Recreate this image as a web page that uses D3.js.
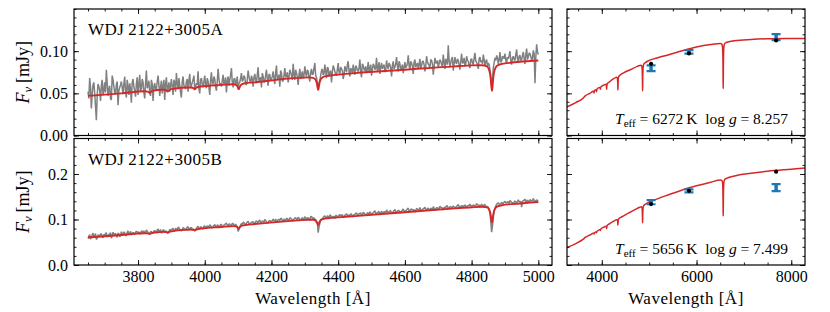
<!DOCTYPE html>
<html lang="en">
<head>
<meta charset="utf-8">
<title>WDJ 2122+3005 spectra and SED</title>
<script src="https://d3js.org/d3.v7.min.js"></script>
<style>
  body { margin: 0; background: #fff; }
</style>
</head>
<body>
<script>
// ---- DATA ----
// observed spectra in microJy: specFlux at 3650 + 5k A, specFluxMid at 3652.5 + 5k A
const specStart = 3650, specStep = 5;
const specFluxA = [
  52, 68, 32, 60, 50, 18, 61, 54, 59, 48,
  63, 78, 47, 59, 42, 66, 51, 60, 36, 57,
  64, 49, 70, 45, 58, 62, 39, 67, 53, 61,
  48, 72, 55, 63, 44, 77, 59, 50, 66, 41,
  62, 54, 71, 47, 65, 58, 42, 69, 56, 52,
  67, 48, 63, 74, 55, 60, 45, 70, 58, 64,
  52, 73, 59, 66, 54, 62, 76, 50, 68, 57,
  71, 56, 64, 48, 75, 61, 67, 53, 79, 60,
  58, 72, 63, 51, 70, 66, 80, 57, 68, 62,
  55, 63, 74, 66, 69, 60, 77, 65, 71, 58,
  73, 62, 81, 66, 57, 70, 64, 78, 59, 72,
  67, 76, 61, 83, 69, 58, 74, 65, 80, 70,
  63, 78, 71, 85, 66, 74, 60, 79, 72, 68,
  82, 70, 76, 64, 79, 73, 86, 69, 60, 66,
  77, 72, 84, 68, 80, 74, 63, 83, 76, 71,
  86, 73, 79, 67, 82, 75, 88, 70, 78, 84,
  72, 81, 76, 90, 69, 83, 77, 74, 87, 79,
  71, 85, 78, 92, 80, 73, 86, 82, 75, 89,
  79, 84, 70, 88, 81, 93, 76, 85, 80, 74,
  87, 82, 95, 78, 86, 73, 90, 84, 79, 91,
  83, 88, 76, 94, 85, 80, 89, 72, 92, 86,
  81, 90, 84, 96, 79, 87, 107, 82, 91, 77,
  93, 85, 89, 78, 97, 86, 82, 94, 88, 80,
  91, 84, 98, 87, 79, 93, 89, 96, 83, 90,
  86, 78, 60, 80, 92, 95, 85, 99, 88, 93,
  97, 86, 91, 100, 84, 94, 89, 102, 87, 95,
  90, 99, 85, 103, 93, 97, 88, 101, 62, 108,
  96
];
const specFluxMidA = [
  44, 57, 49, 63, 35, 47, 58, 41, 66, 53,
  51, 62, 55, 44, 71, 58, 49, 64, 53, 60,
  57, 61, 52, 66, 48, 55, 63, 58, 46, 69,
  60, 53, 67, 51, 62, 56, 65, 47, 61, 58,
  55, 64, 60, 57, 50, 66, 61, 54, 63, 59,
  58, 66, 52, 62, 68, 51, 64, 59, 55, 67,
  65, 57, 63, 71, 58, 60, 55, 66, 61, 64,
  60, 68, 57, 66, 62, 70, 58, 64, 67, 62,
  65, 60, 69, 64, 59, 72, 63, 67, 61, 70,
  62, 68, 64, 71, 61, 66, 70, 63, 67, 69,
  66, 72, 65, 69, 74, 63, 71, 67, 73, 65,
  70, 68, 74, 66, 72, 77, 64, 71, 69, 75,
  69, 75, 66, 73, 78, 70, 72, 67, 76, 71,
  74, 78, 69, 75, 72, 80, 71, 63, 62, 71,
  79, 73, 76, 81, 70, 77, 75, 80, 72, 78,
  75, 81, 77, 72, 79, 84, 76, 80, 74, 77,
  83, 77, 80, 75, 85, 78, 82, 79, 76, 84,
  78, 83, 80, 76, 87, 81, 79, 84, 77, 82,
  86, 80, 83, 79, 85, 82, 88, 78, 84, 81,
  80, 85, 83, 88, 82, 87, 81, 86, 84, 79,
  88, 84, 82, 87, 83, 90, 85, 81, 86, 89,
  85, 88, 82, 87, 91, 84, 89, 86, 93, 85,
  87, 91, 84, 88, 86, 92, 85, 89, 83, 90,
  86, 92, 88, 84, 91, 87, 85, 90, 88, 82,
  84, 70, 66, 86, 89, 92, 90, 87, 94, 91,
  89, 93, 95, 88, 92, 90, 96, 91, 94, 89,
  95, 91, 96, 90, 98, 94, 92, 97, 93, 99
];
const specFluxB = [
  58, 67, 61, 70, 64, 56, 66, 62, 69, 60,
  65, 71, 63, 68, 59, 72, 66, 64, 70, 62,
  73, 67, 70, 64, 75, 69, 66, 72, 68, 74,
  70, 69, 75, 71, 71, 77, 72, 69, 74, 70,
  76, 72, 79, 74, 70, 77, 73, 75, 70, 78,
  76, 81, 74, 79, 83, 77, 75, 82, 78, 80,
  84, 78, 82, 79, 75, 81, 85, 80, 83, 79,
  86, 82, 85, 88, 81, 84, 89, 83, 87, 85,
  89, 84, 88, 92, 86, 90, 87, 91, 85, 86,
  74, 84, 91, 94, 89, 92, 96, 90, 93, 95,
  91, 97, 94, 99, 92, 96, 100, 95, 93, 98,
  95, 101, 97, 94, 100, 98, 103, 96, 99, 102,
  98, 104, 100, 97, 103, 101, 105, 99, 102, 100,
  106, 101, 104, 99, 107, 103, 99, 92, 71, 91,
  100, 104, 108, 103, 106, 110, 104, 107, 102, 109,
  106, 111, 108, 104, 110, 113, 107, 109, 112, 106,
  111, 115, 109, 113, 108, 116, 112, 110, 114, 117,
  111, 115, 119, 113, 116, 110, 118, 114, 117, 121,
  115, 119, 113, 117, 122, 116, 120, 114, 118, 123,
  117, 121, 125, 118, 123, 120, 116, 124, 121, 126,
  120, 124, 127, 121, 125, 119, 123, 128, 122, 126,
  123, 129, 125, 121, 127, 131, 124, 128, 126, 130,
  125, 129, 133, 127, 130, 126, 132, 128, 131, 134,
  128, 132, 129, 135, 131, 127, 134, 130, 133, 128,
  127, 114, 72, 104, 124, 133, 137, 134, 138, 135,
  140, 136, 139, 142, 137, 135, 141, 138, 143, 139,
  127, 142, 145, 140, 138, 144, 141, 146, 139, 143,
  142
];
const specFluxMidB = [
  63, 57, 66, 61, 69, 59, 65, 68, 62, 67,
  69, 62, 67, 71, 64, 68, 70, 61, 69, 65,
  68, 73, 66, 72, 66, 74, 69, 67, 72, 73,
  73, 68, 74, 75, 70, 74, 69, 73, 70, 74,
  73, 77, 74, 78, 72, 77, 73, 72, 73, 77,
  79, 75, 81, 77, 82, 78, 77, 81, 78, 83,
  79, 82, 78, 78, 77, 83, 80, 84, 80, 85,
  82, 86, 83, 87, 83, 87, 84, 88, 83, 89,
  85, 88, 91, 87, 90, 86, 91, 87, 90, 84,
  78, 88, 89, 93, 90, 94, 91, 92, 95, 91,
  95, 94, 97, 92, 97, 94, 98, 93, 97, 96,
  98, 97, 101, 96, 100, 102, 97, 101, 97, 102,
  99, 103, 100, 101, 104, 100, 103, 99, 104, 101,
  104, 103, 101, 106, 103, 104, 101, 95, 84, 100,
  102, 107, 104, 108, 104, 109, 105, 106, 109, 105,
  109, 108, 111, 106, 110, 109, 110, 112, 107, 111,
  113, 110, 113, 115, 110, 114, 111, 115, 111, 114,
  113, 117, 114, 115, 118, 114, 115, 117, 114, 118,
  116, 119, 115, 120, 117, 118, 120, 117, 121, 118,
  119, 123, 119, 122, 121, 122, 119, 123, 122, 122,
  121, 124, 123, 123, 122, 125, 121, 125, 122, 126,
  124, 127, 126, 126, 125, 129, 125, 128, 127, 127,
  127, 131, 128, 129, 130, 130, 129, 130, 130, 131,
  130, 131, 131, 132, 132, 131, 131, 132, 129, 129,
  123, 95, 86, 118, 130, 135, 134, 134, 135, 138,
  136, 139, 135, 140, 137, 138, 138, 139, 139, 140,
  139, 142, 138, 143, 140, 141, 142, 142, 141, 142
];

// best-fit model spectra (microJy), same wavelength grid for both stars
const modelWave = [
  3250, 3450, 3610, 3650, 3750,
  3820, 3829, 3832, 3835, 3838, 3841, 3850, 3860,
  3874, 3883, 3886, 3889, 3892, 3895, 3904, 3950,
  3955, 3964, 3967, 3970, 3973, 3976, 3985, 4050,
  4087, 4096, 4099, 4102, 4105, 4108, 4117, 4150, 4250,
  4280, 4310, 4325, 4332, 4336, 4338, 4340, 4342, 4344, 4348, 4355, 4370, 4400,
  4450, 4600, 4750,
  4801, 4831, 4846, 4853, 4857, 4859, 4861, 4863, 4865, 4869, 4876, 4891, 4921,
  5000, 5200, 5400, 5700, 6000, 6300,
  6503, 6533, 6548, 6555, 6559, 6561, 6563, 6565, 6567, 6571, 6578, 6593, 6623,
  6800, 7150, 7500, 8000, 8300
];
const modelFluxA = [
  33.5, 39.0, 44.5, 47.0, 50.0,
  52.4, 52.0, 51.3, 50.5, 51.6, 52.5, 53.5, 54.0,
  54.35, 53.9, 53.1, 52.0, 53.3, 54.3, 55.35, 57.0,
  57.0, 56.6, 55.8, 54.8, 56.0, 57.0, 57.9, 60.0,
  60.8, 59.4, 57.4, 54.8, 57.6, 59.8, 61.7, 63.0, 67.5,
  68.3, 68.95, 68.4, 66.3, 61.8, 57.3, 54.0, 57.4, 62.1, 66.8, 69.4, 70.9, 72.2,
  74.0, 78.0, 82.0,
  83.1, 83.3, 81.8, 77.2, 68.3, 59.35, 53.0, 59.5, 68.5, 77.6, 82.6, 85.0, 86.5,
  89.0, 92.5, 95.5, 100.5, 105.0, 108.0,
  109.2, 108.4, 105.2, 97.1, 81.8, 66.4, 55.6, 66.5, 81.9, 97.2, 105.5, 108.9, 110.2,
  112.3, 113.9, 114.7, 115.0, 115.1
];
const modelFluxB = [
  38.0, 47.0, 57.0, 60.5, 66.0,
  69.7, 69.5, 68.9, 68.0, 69.2, 70.2, 71.3, 72.0,
  72.7, 72.6, 71.9, 71.0, 72.3, 73.3, 74.55, 77.5,
  77.7, 77.5, 76.9, 76.0, 77.3, 78.3, 79.5, 83.5,
  85.4, 84.3, 82.4, 80.0, 82.8, 85.0, 87.2, 90.0, 96.5,
  98.0, 99.4, 99.4, 97.8, 94.2, 90.6, 88.0, 90.8, 94.7, 98.7, 101.1, 102.7, 104.6,
  107.5, 116.0, 124.5,
  127.0, 127.9, 126.5, 121.2, 110.9, 100.4, 93.0, 100.6, 111.3, 122.1, 128.2, 131.3, 133.7,
  138.5, 146.5, 154.0, 165.0, 174.0, 182.0,
  186.7, 185.9, 181.4, 169.4, 146.7, 123.95, 107.7, 124.05, 146.9, 169.8, 182.2, 187.5, 189.9,
  195.5, 201.5, 206.0, 210.4, 213.0
];

// Gaia BP, G, RP photometry (mJy): observed with errors, and synthetic from the model
const photWave = [5040, 5840, 7680];
const photObsA = [0.0798, 0.0992, 0.1167];
const photErrA = [0.0034, 0.0020, 0.0036];
const photSynA = [0.0850, 0.0973, 0.1127];
const photObsB = [0.1380, 0.1630, 0.1700];
const photErrB = [0.0045, 0.0033, 0.0077];
const photSynB = [0.1340, 0.1630, 0.2050];

const starNames = ["WDJ\u20092122+3005A", "WDJ\u20092122+3005B"];
const teffs = ["6272", "5656"];
const loggs = ["8.257", "7.499"];

const specTicks = [3800, 4000, 4200, 4400, 4600, 4800, 5000];
const sedTicks = [4000, 6000, 8000];
const yTicksA = [0, 0.05, 0.10];
const yTicksB = [0, 0.1, 0.2];

// ---- LAYOUT ----
const width = 830, height = 312;
const left = {x0: 74, x1: 552}, right = {x0: 567, x1: 805};
const rows = [{y0: 9, y1: 135.5}, {y0: 138.5, y1: 265}];
const red = "#d62728", grey = "#808080", blue = "#1f77b4";
const serif = "'Liberation Serif', 'Times New Roman', serif";

const svg = d3.select("body").append("svg")
  .attr("width", width).attr("height", height);

let clipN = 0;
function makePanel(box, row, xd, yd) {
  const x = d3.scaleLinear().domain(xd).range([box.x0, box.x1]);
  const y = d3.scaleLinear().domain(yd).range([row.y1, row.y0]);
  const id = "clip" + (clipN++);
  svg.append("clipPath").attr("id", id).append("rect")
    .attr("x", box.x0).attr("y", row.y0)
    .attr("width", box.x1 - box.x0).attr("height", row.y1 - row.y0);
  const plot = svg.append("g").attr("clip-path", `url(#${id})`);
  return {x, y, box, row, plot};
}

// inward ticks on all four sides, labels where asked
function drawAxes(p, xMajor, xMinor, yMajor, yMinor, xLab, yFmt) {
  const g = svg.append("g");
  const none = () => "";
  const add = (axis, tr, isLab) => {
    const a = g.append("g").attr("transform", tr).call(axis.tickSizeOuter(0).tickPadding(6));
    a.select(".domain").remove();
    a.selectAll("line").attr("stroke-width", 0.9);
    a.attr("font-size", 16);
    if (!isLab) a.selectAll("text").remove();
  };
  const {x, y, box, row} = p;
  add(d3.axisBottom(x).tickValues(xMinor).tickSize(-2.5).tickFormat(none), `translate(0,${row.y1})`, false);
  add(d3.axisBottom(x).tickValues(xMajor).tickSize(-5).tickFormat(d3.format("d")), `translate(0,${row.y1})`, xLab);
  add(d3.axisTop(x).tickValues(xMinor).tickSize(-2.5).tickFormat(none), `translate(0,${row.y0})`, false);
  add(d3.axisTop(x).tickValues(xMajor).tickSize(-5).tickFormat(none), `translate(0,${row.y0})`, false);
  add(d3.axisLeft(y).tickValues(yMinor).tickSize(-2.5).tickFormat(none), `translate(${box.x0},0)`, false);
  add(d3.axisLeft(y).tickValues(yMajor).tickSize(-5).tickFormat(yFmt || none), `translate(${box.x0},0)`, !!yFmt);
  add(d3.axisRight(y).tickValues(yMinor).tickSize(-2.5).tickFormat(none), `translate(${box.x1},0)`, false);
  add(d3.axisRight(y).tickValues(yMajor).tickSize(-5).tickFormat(none), `translate(${box.x1},0)`, false);
  g.append("rect").attr("x", box.x0).attr("y", row.y0)
    .attr("width", box.x1 - box.x0).attr("height", row.y1 - row.y0)
    .attr("fill", "none").attr("stroke", "#000").attr("stroke-width", 1.2);
}

const specLine = (p) => d3.line().x(d => p.x(d[0])).y(d => p.y(d[1]));
const modelLine = (p) => d3.line().x(d => p.x(d[0])).y(d => p.y(d[1])).curve(d3.curveMonotoneX);

const stars = [
  {spec: specFluxA, mid: specFluxMidA, model: modelFluxA, obs: photObsA, err: photErrA, syn: photSynA,
   yd: [0, 0.15], yMajor: yTicksA, yMinor: d3.range(0, 0.1501, 0.01), yFmt: d3.format(".2f")},
  {spec: specFluxB, mid: specFluxMidB, model: modelFluxB, obs: photObsB, err: photErrB, syn: photSynB,
   yd: [0, 0.278], yMajor: yTicksB, yMinor: d3.range(0, 0.2781, 0.02), yFmt: d3.format(".1f")}
];

stars.forEach((s, i) => {
  const row = rows[i];
  const last = i === rows.length - 1;
  // interleave the two sample sets into one spectrum, mJy
  const specPts = [];
  s.spec.forEach((f, k) => {
    specPts.push([specStart + k * specStep, f / 1000]);
    if (k < s.mid.length) specPts.push([specStart + k * specStep + specStep / 2, s.mid[k] / 1000]);
  });
  const modelPts = modelWave.map((w, k) => [w, s.model[k] / 1000]);

  // spectrum panel
  const pl = makePanel(left, row, [3608, 5041], s.yd);
  pl.plot.append("path").datum(specPts).attr("d", specLine(pl))
    .attr("fill", "none").attr("stroke", grey).attr("stroke-width", 1.5)
    .attr("stroke-linejoin", "bevel");
  pl.plot.append("path")
    .datum(modelPts.filter(d => d[0] >= specStart && d[0] <= 5000))
    .attr("d", modelLine(pl))
    .attr("fill", "none").attr("stroke", red).attr("stroke-width", 1.9);
  drawAxes(pl, specTicks, d3.range(3650, 5041, 50), s.yMajor, s.yMinor, last, s.yFmt);

  svg.append("text").attr("x", 88).attr("y", row.y0 + 26)
    .attr("font-size", 17).attr("letter-spacing", 0.5).text(starNames[i]);

  const yl = svg.append("text")
    .attr("transform", `translate(29,${(row.y0 + row.y1) / 2}) rotate(-90)`)
    .attr("text-anchor", "middle").attr("font-size", 18);
  yl.append("tspan").attr("font-style", "italic").text("F");
  yl.append("tspan").attr("font-style", "italic").attr("font-size", 13).attr("dy", 3).text("\u03bd");
  yl.append("tspan").attr("dy", -3).text("\u2009[mJy]");

  // SED panel
  const pr = makePanel(right, row, [3265, 8290], s.yd);
  pr.plot.append("path").datum(modelPts).attr("d", modelLine(pr))
    .attr("fill", "none").attr("stroke", red).attr("stroke-width", 1.5);

  const eb = pr.plot.selectAll("g.eb").data(photWave.map((w, k) => ({w, f: s.obs[k], e: s.err[k]})))
    .join("g").attr("class", "eb").attr("stroke", blue);
  eb.append("line")
    .attr("x1", d => pr.x(d.w)).attr("x2", d => pr.x(d.w))
    .attr("y1", d => pr.y(d.f - d.e)).attr("y2", d => pr.y(d.f + d.e))
    .attr("stroke-width", 3.5);
  [-1, 1].forEach(sg => {
    eb.append("line")
      .attr("x1", d => pr.x(d.w) - 4.5).attr("x2", d => pr.x(d.w) + 4.5)
      .attr("y1", d => pr.y(d.f + sg * d.e)).attr("y2", d => pr.y(d.f + sg * d.e))
      .attr("stroke-width", 2.2);
  });
  pr.plot.selectAll("circle.syn").data(photWave.map((w, k) => [w, s.syn[k]]))
    .join("circle").attr("class", "syn")
    .attr("cx", d => pr.x(d[0])).attr("cy", d => pr.y(d[1])).attr("r", 2.1).attr("fill", "#000");

  drawAxes(pr, sedTicks, d3.range(3500, 8291, 500), s.yMajor, s.yMinor, last, null);

  const ann = svg.append("text").attr("x", 788).attr("y", row.y1 - 11.5)
    .attr("text-anchor", "end").attr("font-size", 15.5).style("white-space", "pre");
  ann.append("tspan").attr("font-style", "italic").text("T");
  ann.append("tspan").attr("font-size", 11).attr("dy", 3).text("eff");
  ann.append("tspan").attr("dy", -3).text(` = ${teffs[i]}\u2009K  log `);
  ann.append("tspan").attr("font-style", "italic").text("g");
  ann.append("tspan").text(` = ${loggs[i]}`);
});

// x-axis titles
[left, right].forEach(b => {
  svg.append("text").attr("x", (b.x0 + b.x1) / 2).attr("y", 304)
    .attr("text-anchor", "middle").attr("font-size", 17).attr("letter-spacing", 0.5)
    .text("Wavelength [\u00c5]");
});

// serif face for every text, set inline
svg.selectAll("text").style("font-family", serif);
</script>
</body>
</html>
